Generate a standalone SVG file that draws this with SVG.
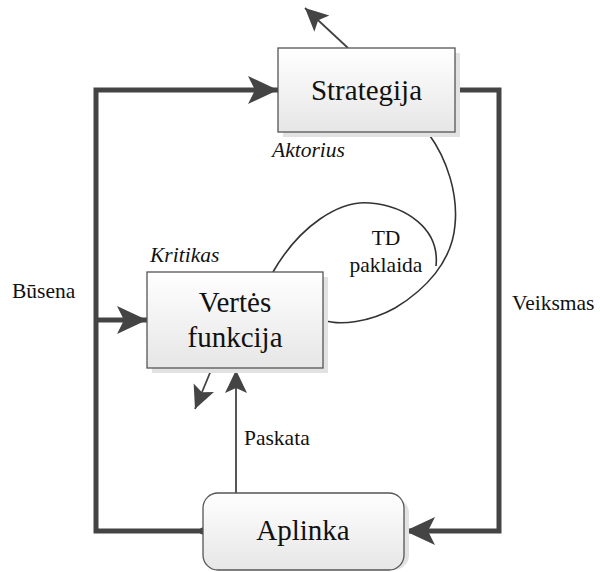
<svg xmlns="http://www.w3.org/2000/svg" width="600" height="572" viewBox="0 0 600 572">
<style>
.box{fill:url(#g);stroke:#555;stroke-width:1.3}
.sh{fill:#e2e2e2}
.big{font-family:'Liberation Serif','Times New Roman',Tinos,'DejaVu Serif',serif;font-size:29px;fill:#111;text-anchor:middle}
.lbl{font-family:'Liberation Serif','Times New Roman',Tinos,'DejaVu Serif',serif;font-size:21.5px;fill:#111}
.it{font-style:italic}
.thick{fill:none;stroke:#444;stroke-width:5;stroke-linejoin:miter}
.thin{fill:none;stroke:#444;stroke-width:1.8}
.curve{fill:none;stroke:#333;stroke-width:1.6}
</style>
<defs>
<linearGradient id="g" x1="0" y1="0" x2="0" y2="1">
<stop offset="0" stop-color="#ffffff"/>
<stop offset="1" stop-color="#e6e6e6"/>
</linearGradient>
<marker id="ab" markerUnits="userSpaceOnUse" markerWidth="40" markerHeight="40" refX="32" refY="15" orient="auto" viewBox="0 0 40 30">
<path d="M32,15 L2,1 L9,15 L2,29 Z" fill="#444"/>
</marker>
<marker id="as" markerUnits="userSpaceOnUse" markerWidth="30" markerHeight="30" refX="23" refY="11" orient="auto" viewBox="0 0 30 22">
<path d="M23,11 L0,0 L5,11 L0,22 Z" fill="#444"/>
</marker>
<marker id="dot" markerUnits="userSpaceOnUse" markerWidth="10" markerHeight="10" refX="5" refY="5" viewBox="0 0 10 10">
<circle cx="5" cy="5" r="3.5" fill="#444"/>
</marker>
</defs>
<g id="connectors">
<path class="thick" d="M203,531 H96 V90 H278" marker-start="url(#dot)" marker-end="url(#ab)"/>
<path class="thick" d="M96,320 H147" marker-end="url(#ab)"/>
<path class="thick" d="M455,90 H499 V531 H405" marker-start="url(#dot)" marker-end="url(#ab)"/>
<path class="thin" d="M236,493 V370" marker-end="url(#as)"/>
<path class="thin" d="M212,368 L195,409" marker-end="url(#as)"/>
<path class="thin" d="M348,48 L305,8" marker-end="url(#as)"/>
<path class="curve" d="M273,272 C300,225 340,200 370,203 C405,206 440,228 436,266"/>
<path class="curve" d="M428,133 C448,160 458,195 455,225 C452,262 425,290 395,308 C370,322 340,326 323,320"/>
</g>
<g id="strategija">
<rect class="sh" x="283" y="53" width="177" height="84"/>
<rect class="box" x="278" y="48" width="177" height="84"/>
<text class="big" x="366.5" y="100">Strategija</text>
</g>
<text class="lbl it" x="272" y="157">Aktorius</text>
<g id="vertes">
<rect class="sh" x="152" y="277" width="176" height="96"/>
<rect class="box" x="147" y="272" width="176" height="96"/>
<text class="big" x="235" y="312">Vertės</text>
<text class="big" x="235" y="347">funkcija</text>
</g>
<text class="lbl it" x="150" y="262">Kritikas</text>
<g id="aplinka">
<rect class="sh" x="208" y="498" width="201" height="72" rx="15"/>
<rect class="box" x="203" y="493" width="201" height="77" rx="15"/>
<text class="big" x="303" y="540">Aplinka</text>
</g>
<g id="labels">
<text class="lbl" x="386" y="245" text-anchor="middle">TD</text>
<text class="lbl" x="386" y="272" text-anchor="middle">paklaida</text>
<text class="lbl" x="12" y="298">Būsena</text>
<text class="lbl" x="512" y="310">Veiksmas</text>
<text class="lbl" x="244" y="445">Paskata</text>
</g>
</svg>
